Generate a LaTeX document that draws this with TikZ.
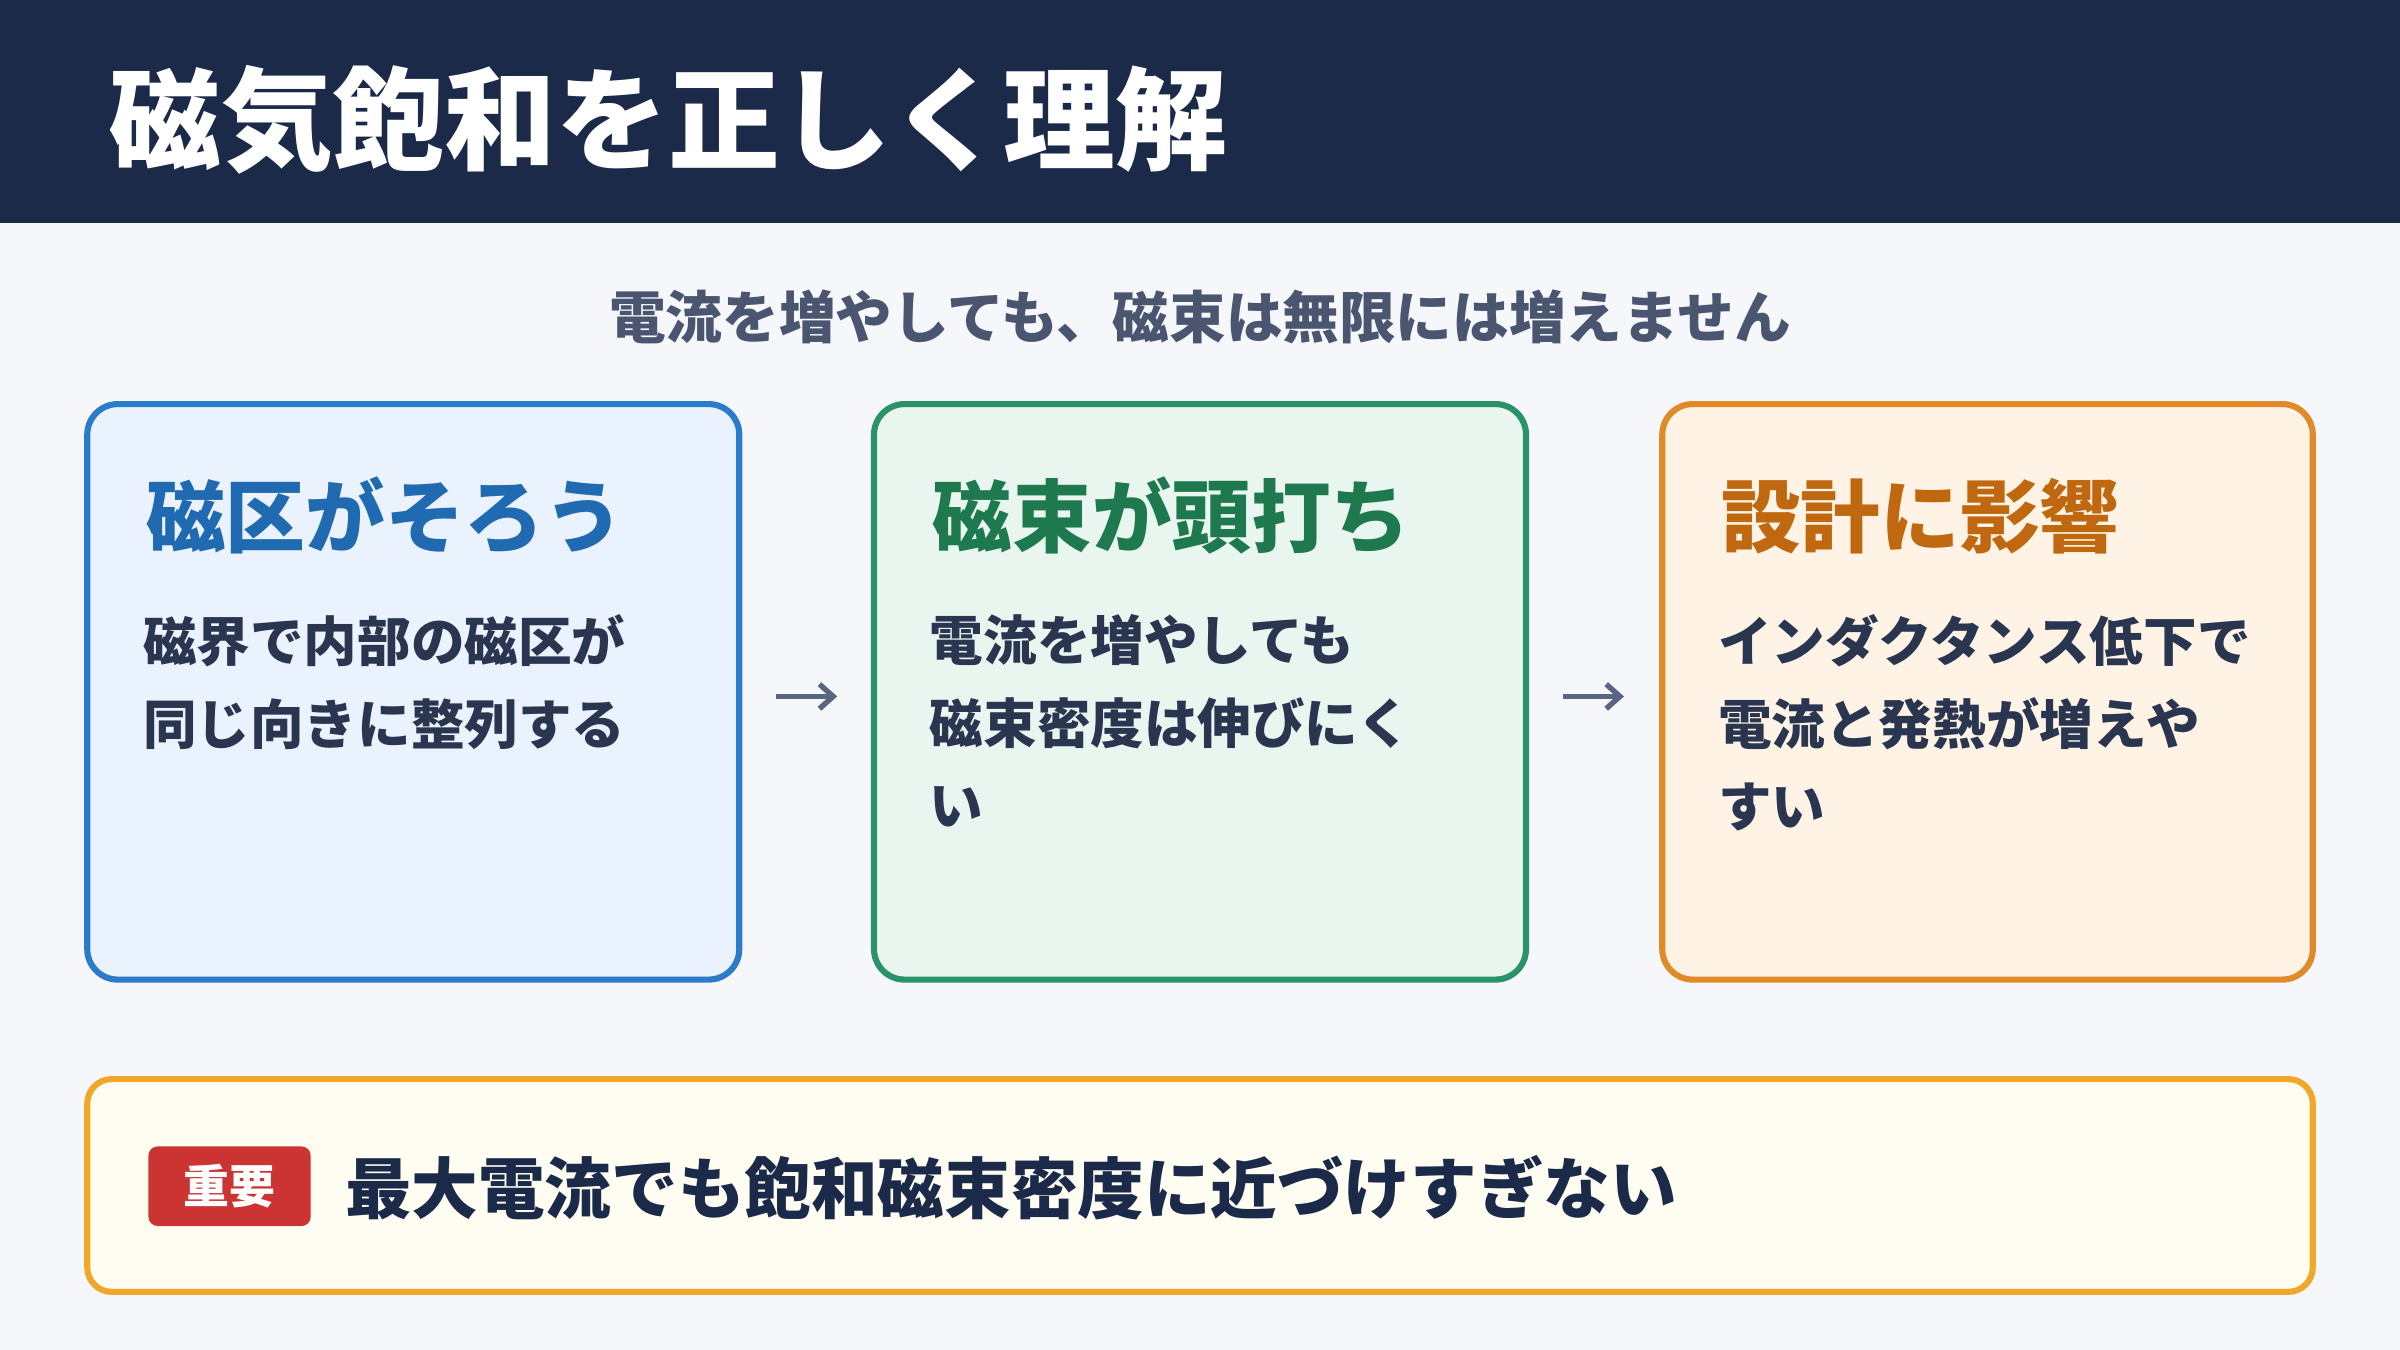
\documentclass[tikz,border=0pt]{standalone}
\usepackage{fontspec}
\setmainfont{Noto Sans CJK JP}
\usepackage{tikz}
\usetikzlibrary{positioning,arrows.meta}
\definecolor{navy}{HTML}{1C2A4A}
\definecolor{bgc}{HTML}{F5F7FB}
\definecolor{subc}{HTML}{4A5570}
\definecolor{txtc}{HTML}{2A3550}
\definecolor{bluel}{HTML}{2B7BCB}
\definecolor{bluef}{HTML}{EAF2FE}
\definecolor{blueh}{HTML}{1F6AB0}
\definecolor{greenl}{HTML}{2A9468}
\definecolor{greenf}{HTML}{E9F6EF}
\definecolor{greenh}{HTML}{1E7A4E}
\definecolor{orangel}{HTML}{E08A2A}
\definecolor{orangef}{HTML}{FEF3E4}
\definecolor{orangeh}{HTML}{C0680F}
\definecolor{goldl}{HTML}{F0A828}
\definecolor{goldf}{HTML}{FFFCF2}
\definecolor{badge}{HTML}{CC3333}
\definecolor{arrc}{HTML}{5A6580}
\tikzset{
  card/.style={draw=#1l, fill=#1f, line width=4pt, rounded corners=20pt},
  head/.style={anchor=west, text=#1h, font=\fontsize{52}{60}\selectfont\bfseries},
  body/.style={anchor=north west, align=left, text=txtc, font=\fontsize{35}{54}\selectfont\bfseries},
  flowarrow/.style={-{Straight Barb[length=9pt,width=16pt,line width=3.5pt]}, line width=3.5pt, arrc}
}
\begin{document}
\begin{tikzpicture}[x=1pt,y=-1pt]
  % background and title bar
  \fill[bgc] (0,0) rectangle (1568,882);
  \fill[navy] (0,0) rectangle (1568,146);
  \node[anchor=west, text=white, font=\fontsize{73}{80}\selectfont\bfseries] (title) at (68,78) {磁気飽和を正しく理解};
  \node[text=subc, font=\fontsize{37}{44}\selectfont\bfseries] (sub) at (784,207) {電流を増やしても、磁束は無限には増えません};
  % cards
  \draw[card=blue] (57,264) rectangle (483,640);
  \draw[card=green] (571,264) rectangle (997,640);
  \draw[card=orange] (1086,264) rectangle (1511,640);
  \node[head=blue] (h1) at (92,337) {磁区がそろう};
  \node[head=green] (h2) at (606,337) {磁束が頭打ち};
  \node[head=orange] (h3) at (1121,337) {設計に影響};
  \node[body] (b1) at (90,398) {磁界で内部の磁区が\\同じ向きに整列する};
  \node[body] (b2) at (604,398) {電流を増やしても\\磁束密度は伸びにく\\い};
  \node[body] (b3) at (1119,398) {インダクタンス低下で\\電流と発熱が増えや\\すい};
  % arrows
  \coordinate (a1s) at (507,455); \coordinate (a1e) at (547,455);
  \coordinate (a2s) at (1021,455); \coordinate (a2e) at (1061,455);
  \draw[flowarrow] (a1s) -- (a1e);
  \draw[flowarrow] (a2s) -- (a2e);
  % note
  \draw[draw=goldl, fill=goldf, line width=4pt, rounded corners=16pt] (57,705) rectangle (1511,844);
  \fill[badge, rounded corners=6pt] (97,749) rectangle (203,801);
  \node[text=white, font=\fontsize{30}{34}\selectfont\bfseries] (tag) at (150,775) {重要};
  \node[anchor=west, text=navy, font=\fontsize{43.5}{50}\selectfont\bfseries] (note) at (222,776) {最大電流でも飽和磁束密度に近づけすぎない};
\end{tikzpicture}
\end{document}
